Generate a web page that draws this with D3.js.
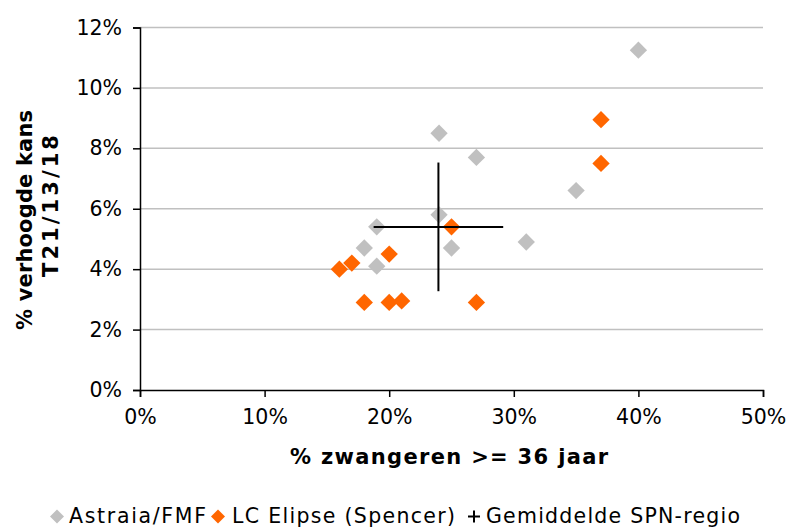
<!DOCTYPE html>
<html><head><meta charset="utf-8">
<script src="https://cdn.jsdelivr.net/npm/d3@7"></script>
<style>
html,body{margin:0;padding:0;background:#fff;}
text{font-family:"DejaVu Sans",Verdana,sans-serif;fill:#000;}
</style></head>
<body><svg id="chart" width="788" height="527"></svg>
<script>
// ---- data ----
const astraiaX = [40, 24, 27, 35, 24, 19, 18, 25, 31, 19];
const astraiaY = [11.25, 8.5, 7.7, 6.6, 5.8, 5.4, 4.7, 4.7, 4.9, 4.1];
const lcX = [37, 37, 25, 20, 17, 16, 18, 20, 21, 27];
const lcY = [8.95, 7.5, 5.4, 4.5, 4.2, 4.0, 2.9, 2.9, 2.95, 2.9];
const meanX = [23.95];
const meanY = [5.4];
const meanErrX = [5.2];
const meanErrY = [2.13];
const xTicks = [0, 10, 20, 30, 40, 50];
const yTicks = [0, 2, 4, 6, 8, 10, 12];
const seriesNames = ["Astraia/FMF", "LC Elipse (Spencer)", "Gemiddelde SPN-regio"];
const xTitle = "% zwangeren >= 36 jaar";
const yTitleLines = ["% verhoogde kans", "T21/13/18"];

const svg = d3.select("#chart");
const x = d3.scaleLinear().domain([0, 50]).range([140, 763]);
const y = d3.scaleLinear().domain([0, 12]).range([390, 27.5]);

// gridlines
svg.append("g").selectAll("line").data(yTicks.filter(d => d > 0)).join("line")
  .attr("x1", x(0)).attr("x2", x(50))
  .attr("y1", d => y(d)).attr("y2", d => y(d))
  .attr("stroke", "#c0c0c0").attr("stroke-width", 1.5);

// axes
const xAxis = d3.axisBottom(x).tickValues(xTicks).tickFormat(d => d + "%").tickSizeOuter(0).tickSize(7).tickPadding(12);
const yAxis = d3.axisLeft(y).tickValues(yTicks).tickFormat(d => d + "%").tickSizeOuter(0).tickSize(7).tickPadding(11);
const gx = svg.append("g").attr("transform", `translate(0,${y(0)})`).call(xAxis);
const gy = svg.append("g").attr("transform", `translate(${x(0)},0)`).call(yAxis);
[gx, gy].forEach(g => {
  g.select(".domain").attr("stroke", "#000").attr("stroke-width", 1.5);
  g.selectAll(".tick line").attr("stroke", "#000").attr("stroke-width", 1.5);
  g.selectAll(".tick text").attr("font-size", 20.5).attr("font-family", "DejaVu Sans").attr("fill", "#000");
});

// titles
svg.append("text").attr("x", 290).attr("y", 464)
  .attr("font-size", 21).attr("font-weight", "bold")
  .attr("textLength", 318).attr("lengthAdjust", "spacing").text(xTitle);
svg.append("text").attr("transform", "translate(32,330) rotate(-90)")
  .attr("font-size", 21).attr("font-weight", "bold")
  .attr("textLength", 220).attr("lengthAdjust", "spacing").text(yTitleLines[0]);
svg.append("text").attr("transform", "translate(58,277) rotate(-90)")
  .attr("font-size", 21).attr("font-weight", "bold")
  .attr("textLength", 142).attr("lengthAdjust", "spacing").text(yTitleLines[1]);

// markers
const diamond = d3.symbol().type(d3.symbolSquare).size(150);
const astraia = astraiaX.map((v, i) => ({x: v, y: astraiaY[i]}));
const lc = lcX.map((v, i) => ({x: v, y: lcY[i]}));
svg.append("g").selectAll("path").data(astraia).join("path")
  .attr("d", diamond).attr("fill", "#c0c0c0")
  .attr("transform", d => `translate(${x(d.x)},${y(d.y)}) rotate(45)`);
svg.append("g").selectAll("path").data(lc).join("path")
  .attr("d", diamond).attr("fill", "#ff6600")
  .attr("transform", d => `translate(${x(d.x)},${y(d.y)}) rotate(45)`);

// mean cross
const mean = meanX.map((v, i) => ({x: v, y: meanY[i], ex: meanErrX[i], ey: meanErrY[i]}));
const mg = svg.append("g");
mean.forEach(m => {
  mg.append("line").attr("x1", x(m.x - m.ex)).attr("x2", x(m.x + m.ex))
    .attr("y1", y(m.y)).attr("y2", y(m.y)).attr("stroke", "#000").attr("stroke-width", 2);
  mg.append("line").attr("x1", x(m.x)).attr("x2", x(m.x))
    .attr("y1", y(m.y - m.ey)).attr("y2", y(m.y + m.ey)).attr("stroke", "#000").attr("stroke-width", 2);
});

// legend
const lg = svg.append("g");
const legSym = d3.symbol().type(d3.symbolSquare).size(98);
const ly = 516.5, lb = 523;
lg.append("path").attr("d", legSym).attr("fill", "#c0c0c0").attr("transform", `translate(57,${ly}) rotate(45)`);
lg.append("text").attr("x", 69).attr("y", lb).attr("font-size", 20.5)
  .attr("textLength", 137).attr("lengthAdjust", "spacing").text(seriesNames[0]);
lg.append("path").attr("d", legSym).attr("fill", "#ff6600").attr("transform", `translate(218,${ly}) rotate(45)`);
lg.append("text").attr("x", 232).attr("y", lb).attr("font-size", 20.5)
  .attr("textLength", 223).attr("lengthAdjust", "spacing").text(seriesNames[1]);
lg.append("line").attr("x1", 468).attr("x2", 480).attr("y1", ly).attr("y2", ly).attr("stroke", "#000").attr("stroke-width", 2);
lg.append("line").attr("x1", 474).attr("x2", 474).attr("y1", ly - 6).attr("y2", ly + 6).attr("stroke", "#000").attr("stroke-width", 2);
lg.append("text").attr("x", 486).attr("y", lb).attr("font-size", 20.5)
  .attr("textLength", 254).attr("lengthAdjust", "spacing").text(seriesNames[2]);
</script></body></html>
